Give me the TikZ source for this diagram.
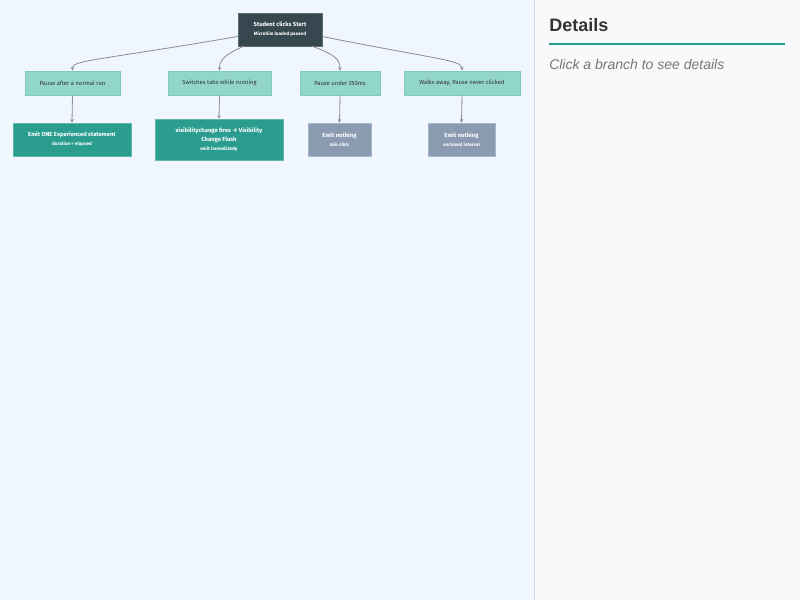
\documentclass[tikz,border=0pt]{standalone}
\usepackage{fontspec}
\setmainfont{Liberation Sans}
\newfontfamily\nodefont{Fira Sans}
\usetikzlibrary{arrows.meta}
\definecolor{leftbg}{HTML}{EFF6FE}
\definecolor{rightbg}{HTML}{F8F9FA}
\definecolor{divider}{HTML}{D5DDE5}
\definecolor{rootfill}{HTML}{37474F}
\definecolor{lightteal}{HTML}{92D5C9}
\definecolor{lighttealb}{HTML}{7ECBBD}
\definecolor{teal}{HTML}{2A9D8F}
\definecolor{tealb}{HTML}{5FB7AC}
\definecolor{slate}{HTML}{8A9BB1}
\definecolor{slateb}{HTML}{A9B6C6}
\definecolor{edgegray}{HTML}{8C8C8C}
\definecolor{headtext}{HTML}{333333}
\definecolor{hinttext}{HTML}{777777}
\tikzset{
  base/.style={rectangle, inner sep=1pt, align=center, font=\nodefont\fontsize{4.4}{6.75}\selectfont},
  rootbox/.style={base, fill=rootfill, draw=rootfill!80!white, text=white, minimum width=84*0.75pt, minimum height=33*0.75pt},
  casebox/.style={base, fill=lightteal, draw=lighttealb, line width=0.6pt, text=black!80, minimum height=24*0.75pt},
  emitbox/.style={base, fill=teal, draw=tealb, line width=0.6pt, text=white},
  nonebox/.style={base, fill=slate, draw=slateb, line width=0.6pt, text=white, minimum height=33*0.75pt},
  edge/.style={draw=edgegray, line width=0.6pt, -{Stealth[length=2.6pt,width=2.6pt]}}
}
\newcommand{\subt}[1]{{\fontsize{3.5}{6.75}\selectfont #1}}
\begin{document}
\begin{tikzpicture}[x=0.75pt,y=-0.75pt]
\useasboundingbox (0,0) rectangle (800,600);
\fill[leftbg] (0,0) rectangle (534,600);
\fill[rightbg] (534,0) rectangle (800,600);
\draw[divider, line width=0.75pt] (534,0) -- (534,600);

% root
\node[rootbox] (root) at (280,29.5) {\textbf{Student clicks Start}\\\subt{\textbf{MicroSim loaded paused}}};

% level 1
\node[casebox, minimum width=95*0.75pt] (a1) at (72.5,83) {Pause after a normal run};
\node[casebox, minimum width=103*0.75pt] (b1) at (219.5,83) {Switches tabs while running};
\node[casebox, minimum width=80*0.75pt] (c1) at (340,83) {Pause under 250ms};
\node[casebox, minimum width=116*0.75pt] (d1) at (462,83) {Walks away, Pause never clicked};

% level 2
\node[emitbox, minimum width=118*0.75pt, minimum height=33*0.75pt] (a2) at (72,139.5) {\textbf{Emit ONE Experienced statement}\\\subt{\textbf{duration = elapsed}}};
\node[emitbox, minimum width=128*0.75pt, minimum height=41*0.75pt] (b2) at (219,139.5) {\textbf{visibilitychange fires → Visibility}\\\textbf{Change Flush}\\\subt{\textbf{emit immediately}}};
\node[nonebox, minimum width=63*0.75pt] (c2) at (339.5,139.5) {\textbf{Emit nothing}\\\subt{\textbf{mis-click}}};
\node[nonebox, minimum width=67*0.75pt] (d2) at (461.5,139.5) {\textbf{Emit nothing}\\\subt{\textbf{unclosed interval}}};

% edges from root
\draw[edge] ([yshift=-7*0.75pt]root.west) .. controls (95,61) and (72,60) .. (a1.north);
\draw[edge] ([xshift=6*0.75pt]root.south west) .. controls (224,55) and (219.5,60) .. (b1.north);
\draw[edge] ([xshift=-10*0.75pt]root.south east) .. controls (336,55) and (340,60) .. (c1.north);
\draw[edge] ([yshift=-7*0.75pt]root.east) .. controls (440,60) and (462,60) .. (d1.north);

% vertical edges
\draw[edge] (a1.south) -- (a2.north);
\draw[edge] (b1.south) -- (b2.north);
\draw[edge] (c1.south) -- (c2.north);
\draw[edge] (d1.south) -- (d2.north);

% details panel
\node[anchor=base west, inner sep=0pt, text=headtext, font=\fontsize{13.5}{16}\selectfont\bfseries] (dtitle) at (549,31) {Details};
\coordinate (lineL) at (549,44);
\coordinate (lineR) at (785,44);
\draw[teal, line width=1.5pt] (lineL) -- (lineR);
\node[anchor=base west, inner sep=0pt, text=hinttext, font=\fontsize{10.5}{12}\selectfont\itshape] (hint) at (549,69) {Click a branch to see details};
\end{tikzpicture}
\end{document}
